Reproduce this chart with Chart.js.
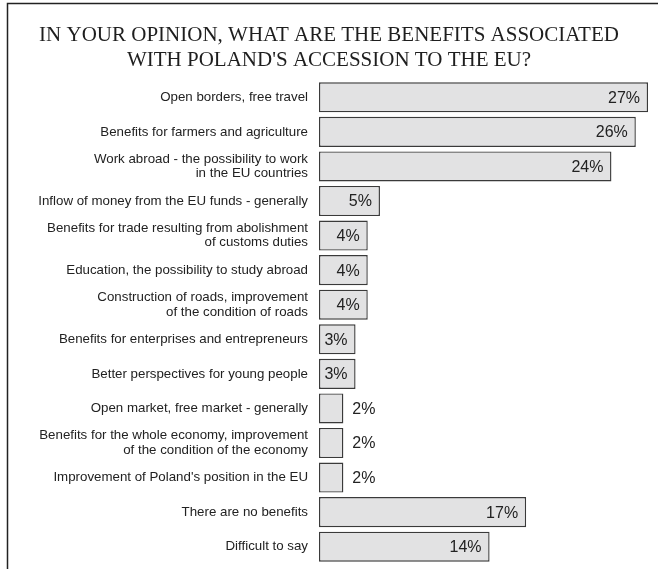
<!DOCTYPE html>
<html>
<head>
<meta charset="utf-8">
<script src="https://cdn.jsdelivr.net/npm/chart.js@4"></script>
<style>
  html, body { margin: 0; padding: 0; background: #ffffff; }
  #wrap { width: 658px; height: 569px; position: relative; }
</style>
</head>
<body>
<div id="wrap"><canvas id="c" width="658" height="569"></canvas></div>
<script>
const titleLines = [
  "IN YOUR OPINION, WHAT ARE THE BENEFITS ASSOCIATED",
  "WITH POLAND'S ACCESSION TO THE EU?"
];

const categories = [
  ["Open borders, free travel"],
  ["Benefits for farmers and agriculture"],
  ["Work abroad - the possibility to work", "in the EU countries"],
  ["Inflow of money from the EU funds - generally"],
  ["Benefits for trade resulting from abolishment", "of customs duties"],
  ["Education, the possibility to study abroad"],
  ["Construction of roads, improvement", "of the condition of roads"],
  ["Benefits for enterprises and entrepreneurs"],
  ["Better perspectives for young people"],
  ["Open market, free market - generally"],
  ["Benefits for the whole economy, improvement", "of the condition of the economy"],
  ["Improvement of Poland's position in the EU"],
  ["There are no benefits"],
  ["Difficult to say"]
];

const values = [27, 26, 24, 5, 4, 4, 4, 3, 3, 2, 2, 2, 17, 14];

const valueSuffix = "%";

const frameAndTitle = {
  id: "frameAndTitle",
  beforeDraw(chart) {
    const ctx = chart.ctx;
    ctx.save();
    ctx.fillStyle = "#ffffff";
    ctx.fillRect(0, 0, chart.width, chart.height);
    ctx.strokeStyle = "#222222";
    ctx.lineWidth = 1.5;
    ctx.beginPath();
    ctx.moveTo(7.5, chart.height + 5);
    ctx.lineTo(7.5, 3.5);
    ctx.lineTo(chart.width + 5, 3.5);
    ctx.stroke();
    ctx.fillStyle = "#1e1e1e";
    ctx.font = "21px 'Liberation Serif', 'Times New Roman', serif";
    ctx.textAlign = "center";
    ctx.textBaseline = "alphabetic";
    ctx.fillText(titleLines[0], 329, 41);
    ctx.fillText(titleLines[1], 329, 66);
    ctx.restore();
  }
};

const valueLabels = {
  id: "valueLabels",
  afterDatasetsDraw(chart) {
    const ctx = chart.ctx;
    const meta = chart.getDatasetMeta(0);
    ctx.save();
    ctx.font = "16px 'Liberation Sans', Arial, sans-serif";
    ctx.fillStyle = "#222222";
    ctx.textBaseline = "middle";
    meta.data.forEach((el, i) => {
      const v = chart.data.datasets[0].data[i];
      const txt = v + valueSuffix;
      if (v >= 3) {
        ctx.textAlign = "right";
        ctx.fillText(txt, el.x - 8, el.y + 1);
      } else {
        ctx.textAlign = "left";
        ctx.fillText(txt, el.x + 9, el.y + 1);
      }
    });
    ctx.restore();
  }
};

new Chart(document.getElementById("c"), {
  type: "bar",
  data: {
    labels: categories,
    datasets: [{
      data: values,
      backgroundColor: "#e2e2e3",
      borderColor: "#3a3a3a",
      borderWidth: 1.4,
      borderSkipped: false,
      barPercentage: 0.87,
      categoryPercentage: 1.0
    }]
  },
  options: {
    indexAxis: "y",
    responsive: false,
    animation: false,
    devicePixelRatio: 1,
    layout: { padding: { top: 80, bottom: 5, left: 0, right: 10 } },
    plugins: {
      legend: { display: false },
      title: { display: false },
      tooltip: { enabled: false }
    },
    scales: {
      x: {
        display: false,
        min: 0,
        max: 27
      },
      y: {
        grid: { display: false, drawTicks: false },
        border: { display: false },
        afterFit(scale) {
          scale.width = 319;
          scale.paddingTop = 0;
          scale.paddingBottom = 0;
        },
        ticks: {
          padding: 11,
          color: "#222222",
          font: { family: "'Liberation Sans', Arial, sans-serif", size: 13.3, lineHeight: 1.08 },
          autoSkip: false
        }
      }
    }
  },
  plugins: [frameAndTitle, valueLabels]
});
</script>
</body>
</html>
